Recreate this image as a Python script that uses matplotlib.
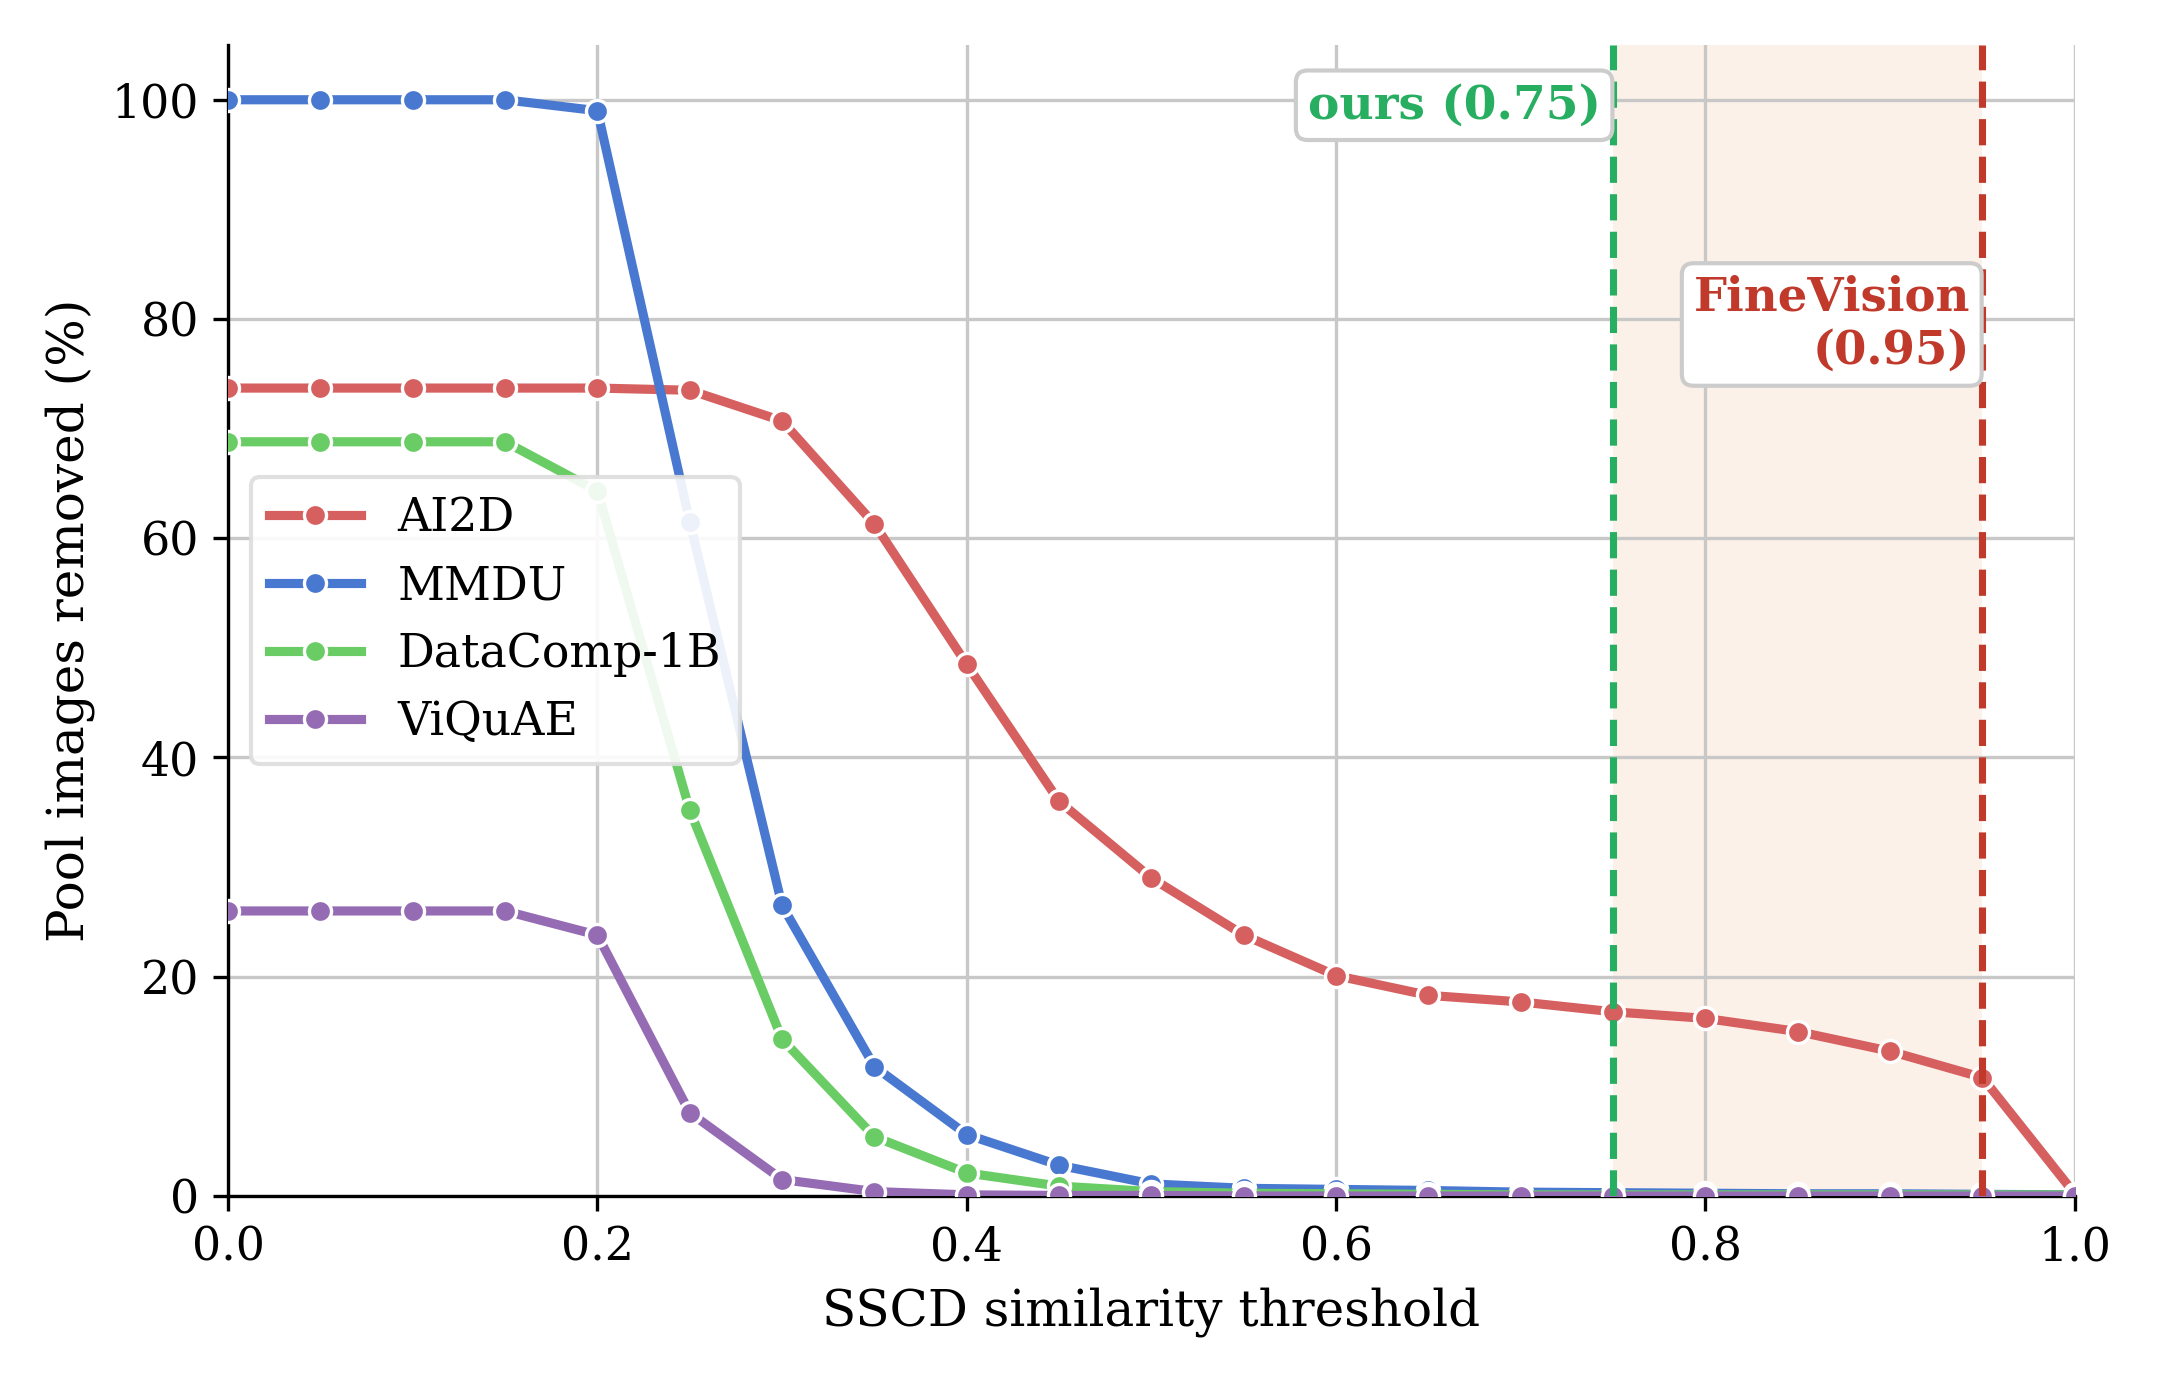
import numpy as np
import matplotlib.pyplot as plt

plt.rcParams['font.family'] = 'DejaVu Serif'

thresholds = [0.0, 0.05, 0.1, 0.15, 0.2, 0.25, 0.3, 0.35, 0.4, 0.45, 0.5,
              0.55, 0.6, 0.65, 0.7, 0.75, 0.8, 0.85, 0.9, 0.95, 1.0]
ai2d = [73.7, 73.7, 73.7, 73.7, 73.7, 73.5, 70.7, 61.3, 48.5, 36.0, 29.0,
        23.8, 20.1, 18.3, 17.7, 16.8, 16.2, 15.0, 13.2, 10.8, 0.2]
mmdu = [100.0, 100.0, 100.0, 100.0, 99.0, 61.5, 26.5, 11.8, 5.6, 2.8, 1.1,
        0.7, 0.6, 0.5, 0.35, 0.3, 0.25, 0.2, 0.2, 0.15, 0.1]
datacomp = [68.8, 68.8, 68.8, 68.8, 64.3, 35.2, 14.3, 5.4, 2.1, 0.9, 0.4,
            0.25, 0.2, 0.15, 0.1, 0.1, 0.1, 0.1, 0.1, 0.1, 0.1]
viquae = [26.0, 26.0, 26.0, 26.0, 23.8, 7.6, 1.5, 0.4, 0.1, 0.05, 0.05,
          0.0, 0.0, 0.0, 0.0, 0.0, 0.0, 0.0, 0.0, 0.0, 0.0]

series = [('AI2D', ai2d, '#d65f5f'),
          ('MMDU', mmdu, '#4878d0'),
          ('DataComp-1B', datacomp, '#6acc64'),
          ('ViQuAE', viquae, '#956cb4')]

ours_thr = 0.75
finevision_thr = 0.95

fig = plt.figure(figsize=(7.193, 4.607), dpi=300)
ax = fig.add_axes([0.1057, 0.1346, 0.8558, 0.8328])

ax.axvspan(ours_thr, finevision_thr, color='#e67e22', alpha=0.1, lw=0, zorder=0)
ax.grid(True, color='#c8c8c8', lw=0.8, zorder=0)
ax.set_axisbelow(True)

for name, vals, col in series:
    ax.plot(thresholds, vals, color=col, lw=2.2, marker='o', ms=5.3,
            mec='white', mew=0.8, label=name, zorder=3)

ax.axvline(ours_thr, color='#27ae60', ls='--', lw=1.7, zorder=4)
ax.axvline(finevision_thr, color='#c0392b', ls='--', lw=1.7, zorder=4)

box = dict(boxstyle='round,pad=0.25', fc='white', ec='#cccccc', lw=1.0)
ax.annotate('ours (0.75)', xy=(ours_thr, 99.5), xytext=(-3, 0),
            textcoords='offset points', ha='right', va='center',
            fontsize=11.3, fontweight='bold', color='#27ae60', bbox=box, zorder=5)
ax.annotate('FineVision\n(0.95)', xy=(finevision_thr, 79.5), xytext=(-3, 0),
            textcoords='offset points', ha='right', va='center',
            multialignment='right', fontsize=11.2, fontweight='bold',
            color='#c0392b', bbox=box, zorder=5)

ax.set_xlim(0, 1)
ax.set_ylim(0, 105)
ax.set_xticks([0.0, 0.2, 0.4, 0.6, 0.8, 1.0])
ax.set_yticks([0, 20, 40, 60, 80, 100])
ax.tick_params(labelsize=11)
ax.set_xlabel('SSCD similarity threshold', fontsize=12)
ax.set_ylabel('Pool images removed (%)', fontsize=12)
for s in ['top', 'right']:
    ax.spines[s].set_visible(False)

leg = ax.legend(loc='center left', bbox_to_anchor=(0.0, 0.5), fontsize=11,
                framealpha=0.9, edgecolor='#dddddd', handlelength=2.0)
leg.set_zorder(6)

fig.savefig('out.png', dpi=300)
